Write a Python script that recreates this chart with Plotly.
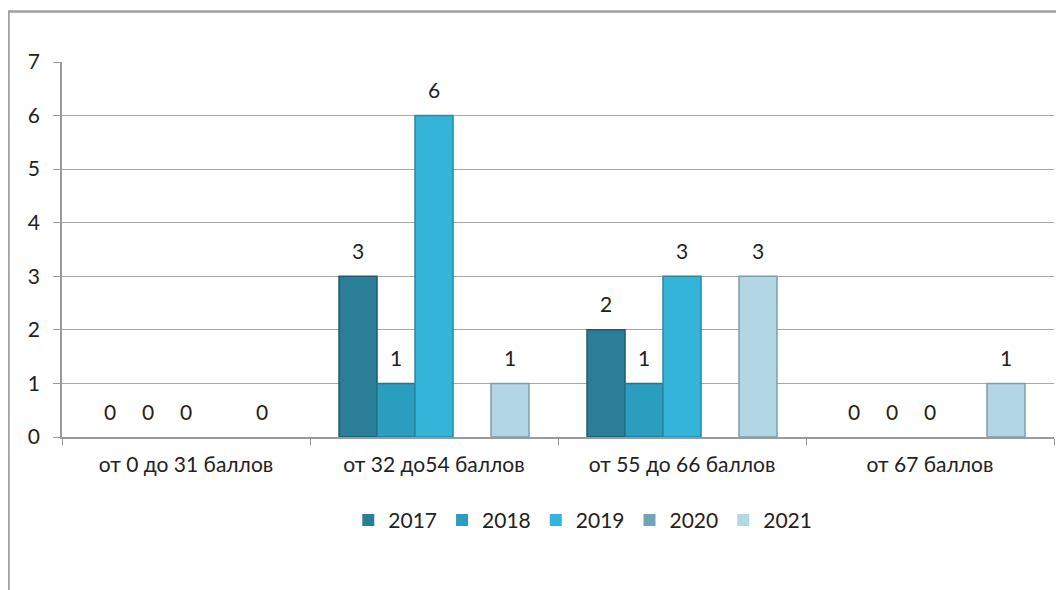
import plotly.graph_objects as go

# Категории и данные по годам
categories = ["от 0 до 31 баллов", "от 32 до54 баллов", "от 55 до 66 баллов", "от 67 баллов"]
years = ["2017", "2018", "2019", "2020", "2021"]
v2017 = [0, 3, 2, 0]
v2018 = [0, 1, 1, 0]
v2019 = [0, 6, 3, 0]
v2020 = [None, None, None, None]
v2021 = [0, 1, 3, 1]

series = [v2017, v2018, v2019, v2020, v2021]
colors = ['#2a7e98', '#2b9dbf', '#34b4d8', '#72a3ba', '#b3d6e4']
edges = ['#1d5a6d', '#1f7690', '#2589a6', '#5a8296', '#7d9eac']

# страница имеет отступ 8px у body, поэтому фигура чуть меньше окна
W, H = 1056, 582
L, R, T, B = 54, 10, 54, 153
pw = W - L - R
ph = H - T - B
bargap = 0.234
slot = pw / len(categories) * (1 - bargap) / len(years)

fig = go.Figure()
for i, (year, vals, c, e) in enumerate(zip(years, series, colors, edges)):
    fig.add_trace(go.Bar(
        x=categories, y=vals, name=year,
        marker=dict(color=c, line=dict(color=e,
                    width=[0 if not v else 1.5 for v in vals])),
    ))
    # подписи данных над столбцами
    for cat, v in zip(categories, vals):
        if v is None:
            continue
        fig.add_annotation(
            x=cat, y=v, text=str(v), showarrow=False,
            xshift=(i - (len(years) - 1) / 2) * slot, yshift=26,
            font=dict(size=21, color='#222222'),
        )

# рамка области диаграммы
def px_x(p):
    return (p - L) / pw

def px_y(p):
    return (H - B - p) / ph

fig.add_shape(type='rect', xref='paper', yref='paper',
              x0=px_x(0.5), x1=px_x(1080), y0=px_y(620), y1=px_y(3.5),
              line=dict(color='#a0a0a0', width=2.5), layer='below')

fig.update_layout(
    width=W, height=H,
    margin=dict(l=L, r=R, t=T, b=B),
    barmode='group', bargap=bargap, bargroupgap=0,
    paper_bgcolor='white', plot_bgcolor='white',
    font=dict(family='Lato, Open Sans, sans-serif', size=21, color='#222222'),
    xaxis=dict(
        showline=True, linecolor='#9a9a9a', linewidth=1.5,
        ticks='outside', tickson='boundaries', ticklen=6, tickcolor='#9a9a9a',
        showgrid=False, tickfont=dict(size=21), ticklabelstandoff=8,
    ),
    yaxis=dict(
        range=[0, 7], dtick=1, showline=True, linecolor='#9a9a9a', linewidth=1.5,
        ticks='outside', ticklen=7, tickcolor='#9a9a9a',
        showgrid=True, gridcolor='#a8a8a8', gridwidth=1,
        zeroline=False, tickfont=dict(size=21), ticklabelstandoff=9,
    ),
    legend=dict(
        orientation='h', x=0.525, xanchor='center', y=-0.222, yanchor='middle',
        font=dict(size=21), itemwidth=30, traceorder='normal',
    ),
    showlegend=True,
)

fig.write_html("out.html")
